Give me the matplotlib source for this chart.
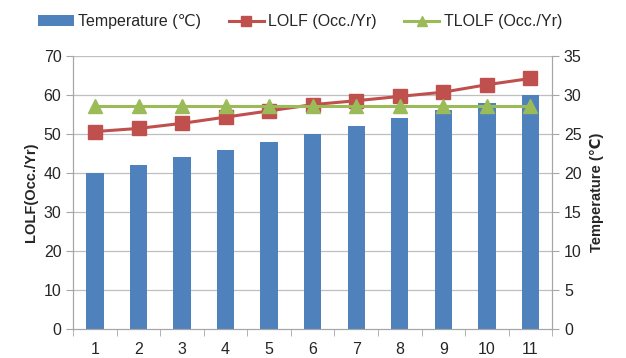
import numpy as np
import matplotlib.pyplot as plt

# === Daten ===
kategorien = ['1', '2', '3', '4', '5', '6', '7', '8', '9', '10', '11']
temperatur = [20, 21, 22, 23, 24, 25, 26, 27, 28, 29, 30]
lolf = [50.6, 51.4, 52.7, 54.3, 55.9, 57.5, 58.5, 59.6, 60.7, 62.6, 64.2]
tlolf = [57.2] * 11

plt.rcParams['font.family'] = ['Liberation Sans', 'DejaVu Sans']

fig = plt.figure(figsize=(6.26, 3.58), dpi=100)
ax = fig.add_axes([0.117, 0.081, 0.765, 0.763])
ax2 = ax.twinx()

x = np.arange(len(kategorien))
grau = '#A6A6A6'
text_farbe = '#262626'

# Balken auf rechter Achse
bars = ax2.bar(x, temperatur, width=0.4, color='#4F81BD', zorder=2,
               label='Temperature (\u2103)')
ax2.set_ylim(0, 35)
ax2.set_yticks(np.arange(0, 36, 5))

# Linien auf linker Achse -> linke Achse nach vorne
ax.set_zorder(ax2.get_zorder() + 1)
ax.patch.set_visible(False)
l1, = ax.plot(x, lolf, color='#C0504D', lw=2.2, marker='s', ms=9.5,
              label='LOLF (Occ./Yr)', zorder=4)
l2, = ax.plot(x, tlolf, color='#9BBB59', lw=2.2, marker='^', ms=9.5,
              label='TLOLF (Occ./Yr)', zorder=5)
ax.set_ylim(0, 70)
ax.set_yticks(np.arange(0, 71, 10))
ax.set_xlim(-0.5, len(kategorien) - 0.5)
ax.set_xticks(x)
ax.set_xticklabels(kategorien)
ax.set_xticks(np.arange(-0.5, len(kategorien), 1), minor=True)

# Gitter auf ax2 hinter den Balken
for yv in np.arange(5, 36, 5):
    ax2.axhline(yv, color='#BFBFBF', lw=0.9, zorder=0)

for a in (ax, ax2):
    a.spines['top'].set_visible(False)
    for s in ('left', 'right', 'bottom'):
        a.spines[s].set_color(grau)
    a.tick_params(colors=grau, labelcolor=text_farbe, labelsize=11.5, length=5)

ax.tick_params(axis='x', which='major', length=0, pad=9)
ax.tick_params(axis='x', which='minor', length=5, color=grau)

ax.set_ylabel('LOLF(Occ./Yr)', fontweight='bold', fontsize=10.5, color=text_farbe, labelpad=4)
ax2.set_ylabel('Temperature (\u2103)', fontweight='bold', fontsize=10.5, color=text_farbe, labelpad=6)

fig.legend(handles=[bars, l1, l2], loc='upper center', bbox_to_anchor=(0.48, 1.0),
           ncol=3, frameon=False, fontsize=11.5, handlelength=2.2, handletextpad=0.3,
           columnspacing=1.7, markerscale=0.8, labelcolor=text_farbe)

fig.savefig('out.png', dpi=100)
